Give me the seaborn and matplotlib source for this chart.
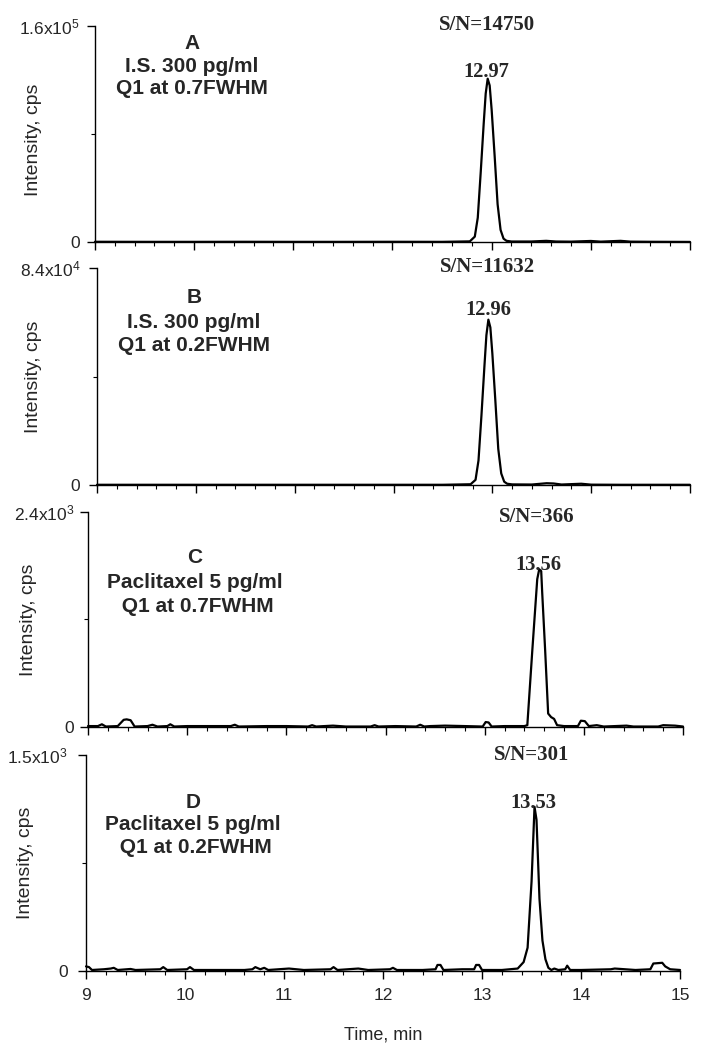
import matplotlib
matplotlib.use('Agg')
import matplotlib.pyplot as plt
import matplotlib.ticker as mticker
import seaborn as sns

# Chromatogram traces (time in min, intensity in cps)
a_time = [9.00, 9.50, 10.00, 10.50, 11.00, 11.50, 12.00, 12.50, 12.78, 12.83, 12.86, 12.89,
          12.92, 12.94, 12.96, 12.98, 13.00, 13.03, 13.06, 13.09, 13.12, 13.15, 13.20, 13.40,
          13.55, 13.65, 13.80, 14.00, 14.10, 14.30, 14.40, 14.60, 15.00]
a_int = [200, 150, 150, 200, 150, 150, 200, 150, 500, 4000, 18000, 52000,
         88000, 110000, 121000, 116000, 98000, 64000, 28000, 9000, 2500, 900, 400, 400,
         900, 400, 300, 800, 300, 900, 300, 200, 100]

b_time = [9.00, 9.50, 10.00, 10.50, 11.00, 11.50, 12.00, 12.50, 12.78, 12.83, 12.86, 12.89,
          12.92, 12.94, 12.96, 12.98, 13.00, 13.03, 13.06, 13.09, 13.12, 13.15, 13.20, 13.40,
          13.55, 13.62, 13.70, 13.90, 14.00, 14.30, 14.60, 15.00]
b_int = [100, 100, 100, 100, 100, 100, 100, 100, 300, 2000, 9500, 27000,
         46000, 58000, 64000, 61000, 51000, 33000, 14000, 4500, 1300, 500, 250, 200,
         700, 600, 200, 500, 150, 100, 100, 100]

c_time = [9.00, 9.10, 9.14, 9.18, 9.30, 9.36, 9.39, 9.43, 9.47, 9.60, 9.65, 9.70, 9.80, 9.83,
          9.87, 10.00, 10.20, 10.44, 10.48, 10.52, 10.80, 11.00, 11.22, 11.26, 11.30, 11.47,
          11.60, 11.85, 11.89, 11.93, 12.10, 12.31, 12.35, 12.39, 12.45, 12.60, 12.80, 12.98,
          13.01, 13.04, 13.07, 13.20, 13.40, 13.43, 13.48, 13.53, 13.55, 13.57, 13.58, 13.61,
          13.64, 13.67, 13.70, 13.73, 13.80, 13.94, 13.97, 14.01, 14.05, 14.13, 14.20, 14.43,
          14.50, 14.75, 14.80, 14.92, 15.00]
c_int = [10, 10, 30, 5, 10, 80, 85, 75, 5, 10, 25, 5, 10, 30,
         5, 10, 10, 10, 25, 5, 10, 10, 5, 20, 5, 15,
         5, 5, 20, 5, 10, 5, 25, 5, 10, 15, 10, 5,
         55, 50, 5, 10, 10, 20, 850, 1650, 1760, 1740, 1500, 850,
         150, 110, 90, 20, 10, 10, 70, 65, 10, 20, 5, 15,
         5, 5, 20, 15, 5]

d_time = [9.00, 9.03, 9.06, 9.18, 9.25, 9.28, 9.32, 9.45, 9.50, 9.75, 9.78, 9.82, 10.02,
          10.05, 10.09, 10.30, 10.60, 10.68, 10.71, 10.76, 10.80, 10.84, 11.05, 11.20, 11.47,
          11.50, 11.54, 11.75, 11.85, 12.07, 12.10, 12.14, 12.40, 12.53, 12.55, 12.58, 12.61,
          12.80, 12.92, 12.94, 12.97, 13.00, 13.20, 13.36, 13.42, 13.46, 13.50, 13.53, 13.55,
          13.58, 13.61, 13.64, 13.67, 13.70, 13.73, 13.77, 13.84, 13.86, 13.89, 14.00, 14.30,
          14.34, 14.55, 14.70, 14.73, 14.82, 14.85, 14.90, 15.00]
d_int = [30, 25, 5, 10, 15, 20, 5, 12, 5, 10, 25, 5, 10,
         25, 5, 5, 5, 10, 25, 10, 20, 5, 15, 5, 10,
         25, 5, 15, 5, 10, 20, 5, 5, 10, 40, 40, 5,
         10, 10, 40, 40, 5, 5, 15, 60, 160, 620, 1140, 1050,
         500, 210, 80, 20, 5, 15, 5, 10, 35, 5, 5, 10,
         15, 5, 10, 50, 55, 30, 10, 5]

panel_letters = ['A', 'B', 'C', 'D']
panel_lines = [['I.S. 300 pg/ml', 'Q1 at 0.7FWHM'],
               ['I.S. 300 pg/ml', 'Q1 at 0.2FWHM'],
               ['Paclitaxel 5 pg/ml', ' Q1 at 0.7FWHM'],
               ['Paclitaxel 5 pg/ml', ' Q1 at 0.2FWHM']]
sn_labels = ['S/N=14750', 'S/N=11632', 'S/N=366', 'S/N=301']
peak_labels = ['12.97', '12.96', '13.56', '13.53']
y_max = [1.6e5, 8.4e4, 2.4e3, 1.5e3]
y_max_labels = ['1.6x10$^{5}$', '8.4x10$^{4}$', '2.4x10$^{3}$', '1.5x10$^{3}$']

traces = [(a_time, a_int), (b_time, b_int), (c_time, c_int), (d_time, d_int)]

# layout (pixel positions measured on the 704x1051 original)
rects = [[0.1349, 0.7697, 0.8452, 0.2055],
         [0.1378, 0.5385, 0.8423, 0.2065],
         [0.1250, 0.3083, 0.8452, 0.2046],
         [0.1222, 0.0764, 0.8438, 0.2052]]
block_x = [9.98, 9.98, 10.08, 10.08]
block_y = [[0.92, 0.815, 0.71], [0.866, 0.751, 0.645], [0.786, 0.67, 0.558], [0.782, 0.676, 0.569]]
sn_pos = [(12.95, 1.005), (12.95, 1.005), (13.53, 0.977), (13.50, 1.0)]
peak_pos = [(12.95, 0.787), (12.96, 0.806), (13.54, 0.753), (13.52, 0.777)]
ylab_pos = [(-0.089, 0.472), (-0.093, 0.5), (-0.086, 0.5), (-0.0875, 0.5)]
ytick_pad = [5, 6, 4, 7]

sns.set_style('ticks')
plt.rcParams['font.family'] = ['Liberation Sans', 'DejaVu Sans']
plt.rcParams['mathtext.fontset'] = 'custom'
plt.rcParams['mathtext.rm'] = 'Liberation Sans'
plt.rcParams['mathtext.it'] = 'Liberation Sans'
plt.rcParams['mathtext.bf'] = 'Liberation Sans:bold'

fig = plt.figure(figsize=(7.04, 10.51), dpi=100)

for i in range(4):
    ax = fig.add_axes(rects[i])
    t, v = traces[i]
    sns.lineplot(x=t, y=v, ax=ax, color='black', linewidth=1.6, estimator=None, sort=False)
    for ln in ax.lines:
        ln.set_clip_on(False)

    ax.set_xlim(9, 15)
    ax.set_ylim(0, y_max[i])
    sns.despine(ax=ax)
    for s in ['left', 'bottom']:
        ax.spines[s].set_linewidth(1.0)
        ax.spines[s].set_color('black')

    ax.xaxis.set_major_locator(mticker.FixedLocator(range(9, 16)))
    ax.xaxis.set_minor_locator(mticker.MultipleLocator(0.2))
    ax.yaxis.set_major_locator(mticker.FixedLocator([0, y_max[i]]))
    ax.yaxis.set_major_formatter(mticker.FixedFormatter(['0', y_max_labels[i]]))
    ax.yaxis.set_minor_locator(mticker.FixedLocator([y_max[i] / 2]))
    ax.tick_params(which='major', length=6, width=1, color='black')
    ax.tick_params(which='minor', length=3, width=0.8, color='black')
    ax.tick_params(axis='y', which='major', labelsize=12.5, pad=ytick_pad[i])
    if i < 3:
        ax.tick_params(axis='x', labelbottom=False)
    else:
        ax.tick_params(axis='x', which='major', labelsize=12.5, pad=6.5)
        ax.set_xlabel('Time, min', fontsize=13, labelpad=17)

    ax.set_ylabel('Intensity, cps', fontsize=14)
    ax.yaxis.set_label_coords(*ylab_pos[i])

    tr = ax.get_xaxis_transform()
    ax.text(block_x[i], block_y[i][0], panel_letters[i], transform=tr, ha='center', va='center',
            fontsize=15, fontweight='bold')
    for j, line in enumerate(panel_lines[i]):
        ax.text(block_x[i], block_y[i][j + 1], line, transform=tr, ha='center', va='center',
                fontsize=15, fontweight='bold')
    ax.text(sn_pos[i][0], sn_pos[i][1], sn_labels[i], transform=tr, ha='center', va='center',
            fontsize=15, fontweight='bold', family=['Liberation Serif', 'DejaVu Serif'])
    ax.text(peak_pos[i][0], peak_pos[i][1], peak_labels[i], transform=tr, ha='center', va='center',
            fontsize=14.8, fontweight='bold', family=['Liberation Serif', 'DejaVu Serif'])

fig.savefig('out.png', dpi=100)
